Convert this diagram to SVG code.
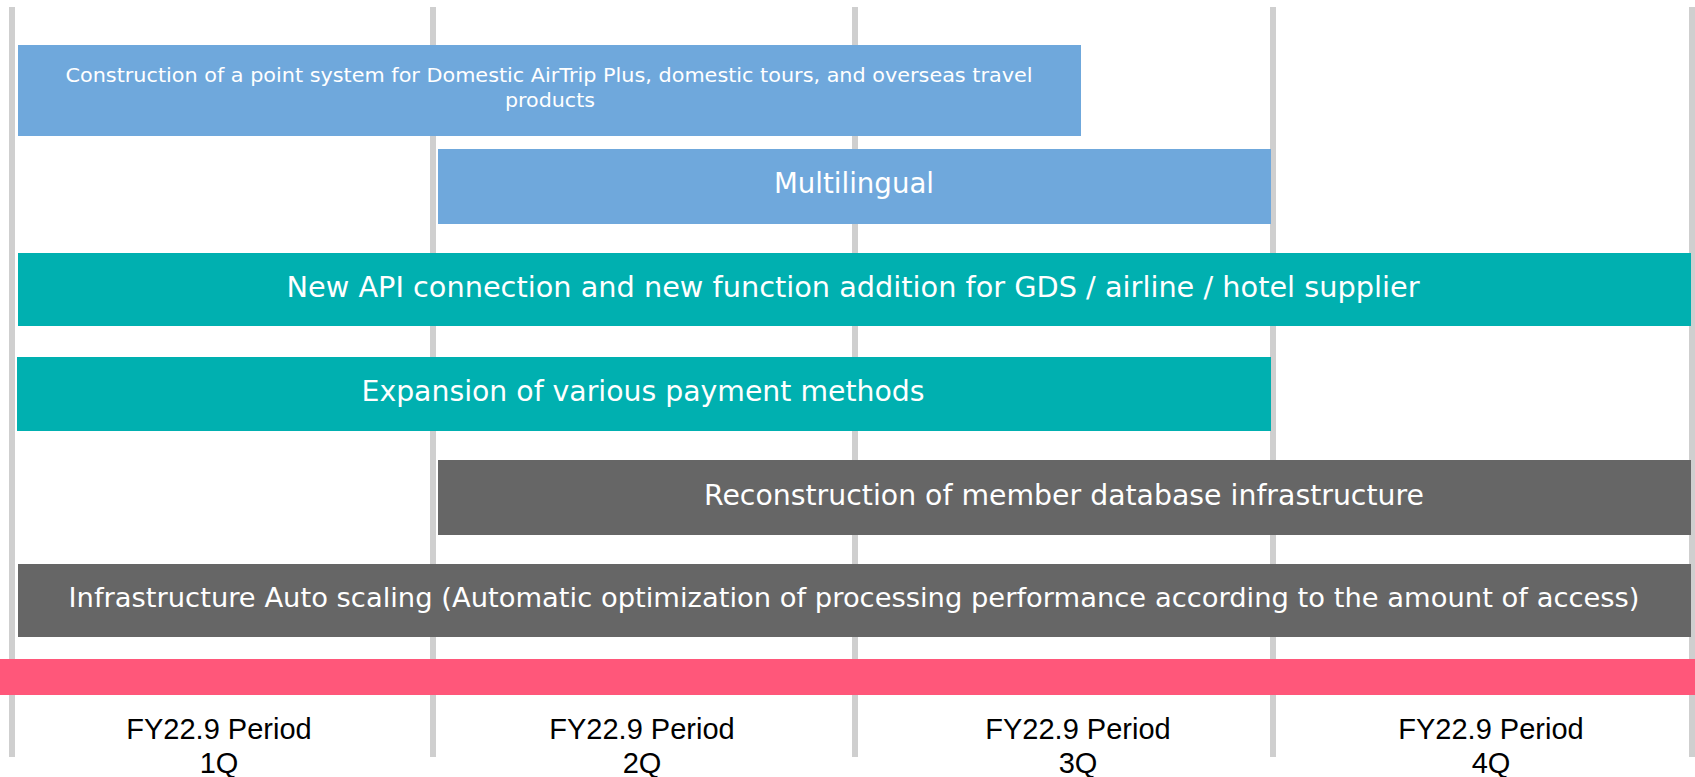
<svg xmlns="http://www.w3.org/2000/svg" width="1695" height="777" viewBox="0 0 1695 777">
<style>
.grid{stroke:#CFCFCF;stroke-width:6}
.blue{fill:#6FA8DC}
.teal{fill:#00B0B0}
.gray{fill:#666666}
.t{font-family:"DejaVu Sans",Verdana,sans-serif;fill:#FFFFFF;text-anchor:middle}
.q{font-family:"Liberation Sans",Arial,sans-serif;fill:#000000;text-anchor:middle;font-size:29px}
</style>
<rect width="1695" height="777" fill="#FFFFFF"/>
<g id="gridlines">
<line class="grid" x1="12" y1="7" x2="12" y2="757"/>
<line class="grid" x1="433" y1="7" x2="433" y2="757"/>
<line class="grid" x1="855" y1="7" x2="855" y2="757"/>
<line class="grid" x1="1273" y1="7" x2="1273" y2="757"/>
<line class="grid" x1="1692" y1="7" x2="1692" y2="757"/>
</g>
<g id="bar-points">
<rect class="blue" x="18" y="45" width="1063" height="91"/>
<text class="t" x="549" y="82" font-size="19" textLength="967" lengthAdjust="spacingAndGlyphs">Construction of a point system for Domestic AirTrip Plus, domestic tours, and overseas travel</text>
<text class="t" x="550" y="107" font-size="19" textLength="90" lengthAdjust="spacingAndGlyphs">products</text>
</g>
<g id="bar-multilingual">
<rect class="blue" x="438" y="149" width="833" height="75"/>
<text class="t" x="854" y="193" font-size="28" textLength="160" lengthAdjust="spacingAndGlyphs">Multilingual</text>
</g>
<g id="bar-api">
<rect class="teal" x="18" y="253" width="1673" height="73"/>
<text class="t" x="853" y="297" font-size="28" textLength="1133" lengthAdjust="spacingAndGlyphs">New API connection and new function addition for GDS / airline / hotel supplier</text>
</g>
<g id="bar-payment">
<rect class="teal" x="17" y="357" width="1254" height="74"/>
<text class="t" x="643" y="401" font-size="28" textLength="563" lengthAdjust="spacingAndGlyphs">Expansion of various payment methods</text>
</g>
<g id="bar-member-db">
<rect class="gray" x="438" y="460" width="1253" height="75"/>
<text class="t" x="1064" y="505" font-size="28" textLength="720" lengthAdjust="spacingAndGlyphs">Reconstruction of member database infrastructure</text>
</g>
<g id="bar-autoscaling">
<rect class="gray" x="18" y="564" width="1673" height="73"/>
<text class="t" x="854" y="607" font-size="27" textLength="1571" lengthAdjust="spacingAndGlyphs">Infrastructure Auto scaling (Automatic optimization of processing performance according to the amount of access)</text>
</g>
<g id="timeline">
<rect x="0" y="659" width="1695" height="36" fill="#FF577A"/>
</g>
<g id="labels">
<text class="q" x="219" y="739">FY22.9 Period</text>
<text class="q" x="219" y="773">1Q</text>
<text class="q" x="642" y="739">FY22.9 Period</text>
<text class="q" x="642" y="773">2Q</text>
<text class="q" x="1078" y="739">FY22.9 Period</text>
<text class="q" x="1078" y="773">3Q</text>
<text class="q" x="1491" y="739">FY22.9 Period</text>
<text class="q" x="1491" y="773">4Q</text>
</g>
<g id="connectors"/>
</svg>
